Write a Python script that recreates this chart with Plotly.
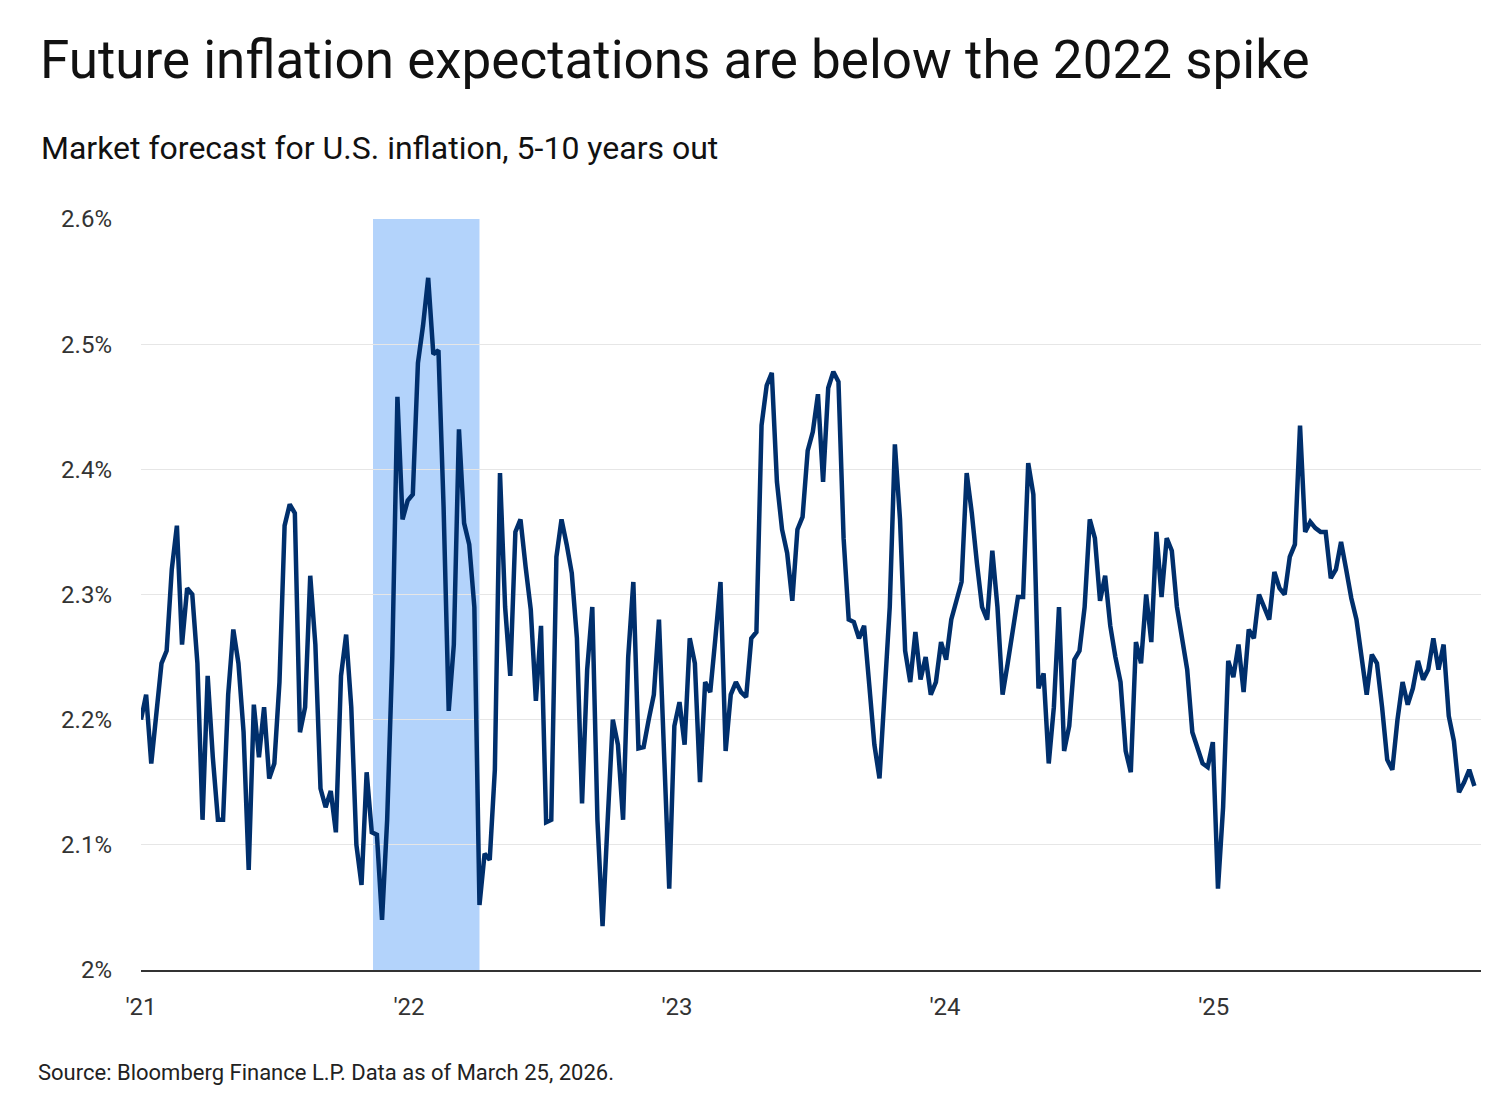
import pandas as pd
import plotly.graph_objects as go

# weekly 5-10y forward inflation expectation (%)
values = [
    2.20, 2.22, 2.165, 2.21, 2.245, 2.255, 2.32, 2.355, 2.26, 2.305, 2.30, 2.245, 2.12, 2.235, 2.17, 2.12,
    2.12, 2.22, 2.272, 2.245, 2.19, 2.08, 2.212, 2.17, 2.21, 2.153, 2.165, 2.23, 2.355, 2.372, 2.365, 2.19,
    2.21, 2.315, 2.26, 2.145, 2.13, 2.143, 2.11, 2.235, 2.268, 2.21, 2.10, 2.068, 2.158, 2.11, 2.108, 2.04,
    2.12, 2.25, 2.458, 2.36, 2.375, 2.38, 2.485, 2.515, 2.553, 2.492, 2.495, 2.37, 2.207, 2.26, 2.432, 2.357,
    2.34, 2.29, 2.052, 2.093, 2.088, 2.16, 2.397, 2.29, 2.235, 2.35, 2.36, 2.322, 2.288, 2.215, 2.275, 2.118,
    2.12, 2.33, 2.36, 2.34, 2.317, 2.265, 2.133, 2.24, 2.29, 2.12, 2.035, 2.12, 2.20, 2.18, 2.12, 2.25,
    2.31, 2.177, 2.178, 2.20, 2.22, 2.28, 2.17, 2.065, 2.195, 2.214, 2.18, 2.265, 2.245, 2.15, 2.23, 2.222,
    2.265, 2.31, 2.175, 2.22, 2.23, 2.222, 2.218, 2.265, 2.27, 2.435, 2.467, 2.477, 2.39, 2.352, 2.333, 2.295,
    2.352, 2.362, 2.415, 2.43, 2.46, 2.39, 2.465, 2.478, 2.47, 2.345, 2.28, 2.278, 2.265, 2.275, 2.228, 2.18,
    2.153, 2.22, 2.29, 2.42, 2.36, 2.255, 2.23, 2.27, 2.232, 2.25, 2.22, 2.23, 2.262, 2.248, 2.28, 2.295,
    2.31, 2.397, 2.365, 2.325, 2.29, 2.28, 2.335, 2.29, 2.22, 2.245, 2.27, 2.298, 2.298, 2.405, 2.38, 2.225,
    2.237, 2.165, 2.21, 2.29, 2.175, 2.195, 2.248, 2.255, 2.29, 2.36, 2.345, 2.295, 2.315, 2.275, 2.25, 2.23,
    2.175, 2.158, 2.262, 2.245, 2.30, 2.262, 2.35, 2.298, 2.345, 2.335, 2.29, 2.265, 2.24, 2.19, 2.177, 2.165,
    2.162, 2.182, 2.065, 2.13, 2.247, 2.234, 2.26, 2.222, 2.272, 2.265, 2.30, 2.29, 2.28, 2.318, 2.305, 2.30,
    2.33, 2.34, 2.435, 2.35, 2.358, 2.353, 2.35, 2.35, 2.313, 2.32, 2.342, 2.32, 2.297, 2.28, 2.25, 2.22,
    2.252, 2.245, 2.21, 2.168, 2.16, 2.20, 2.23, 2.212, 2.225, 2.247, 2.232, 2.24, 2.265, 2.24, 2.26, 2.203,
    2.183, 2.142, 2.15, 2.16, 2.147,
]
first_date, last_date = '2021-01-01', '2025-12-22'
dates = pd.date_range(first_date, last_date, periods=len(values))

spike_start, spike_end = '2021-11-13', '2022-04-07'
tick_dates = ['2021-01-01', '2022-01-01', '2023-01-01', '2024-01-01', '2025-01-01']
tick_years = ["'21", "'22", "'23", "'24", "'25"]
y_ticks = [2.0, 2.1, 2.2, 2.3, 2.4, 2.5, 2.6]
y_labels = ['2%', '2.1%', '2.2%', '2.3%', '2.4%', '2.5%', '2.6%']

fig = go.Figure()
fig.add_vrect(x0=spike_start, x1=spike_end, fillcolor='#b3d3fb', opacity=1, line_width=0, layer='below')
fig.add_trace(go.Scatter(x=dates, y=values, mode='lines', line=dict(color='#002f6c', width=4.5),
                         showlegend=False))

font = 'Roboto, Liberation Sans, sans-serif'
fig.update_layout(
    width=1504, height=1103, plot_bgcolor='white', paper_bgcolor='white',
    margin=dict(l=133, r=31, t=211, b=141),
    font=dict(family=font, color='#333333'),
    annotations=[
        dict(text='Future inflation expectations are below the 2022 spike', xref='paper', yref='paper',
             x=-0.077, y=1.0 + 159 / 751, xanchor='left', yanchor='middle', showarrow=False,
             font=dict(size=53, color='#111111', family=font)),
        dict(text='Market forecast for U.S. inflation, 5-10 years out', xref='paper', yref='paper',
             x=-0.076, y=1.0 + 71 / 751, xanchor='left', yanchor='middle', showarrow=False,
             font=dict(size=32, color='#111111', family=font)),
        dict(text='Source: Bloomberg Finance L.P. Data as of March 25, 2026.', xref='paper', yref='paper',
             x=-0.078, y=-102 / 751, xanchor='left', yanchor='middle', showarrow=False,
             font=dict(size=22, color='#222222', family=font)),
    ],
)
fig.update_xaxes(range=['2021-01-01', '2025-12-31'], tickvals=tick_dates, ticktext=tick_years,
                 showgrid=False, showline=True, linecolor='#333333', linewidth=1.5,
                 tickfont=dict(size=24, color='#333333'), ticks='', ticklabelstandoff=14)
fig.update_yaxes(range=[2.0, 2.6], tickvals=y_ticks, ticktext=y_labels, showgrid=True,
                 gridcolor='#e6e6e6', gridwidth=1, zeroline=False, showline=False,
                 tickfont=dict(size=24, color='#333333'), ticklabelstandoff=28)
fig.write_html('out.html')
